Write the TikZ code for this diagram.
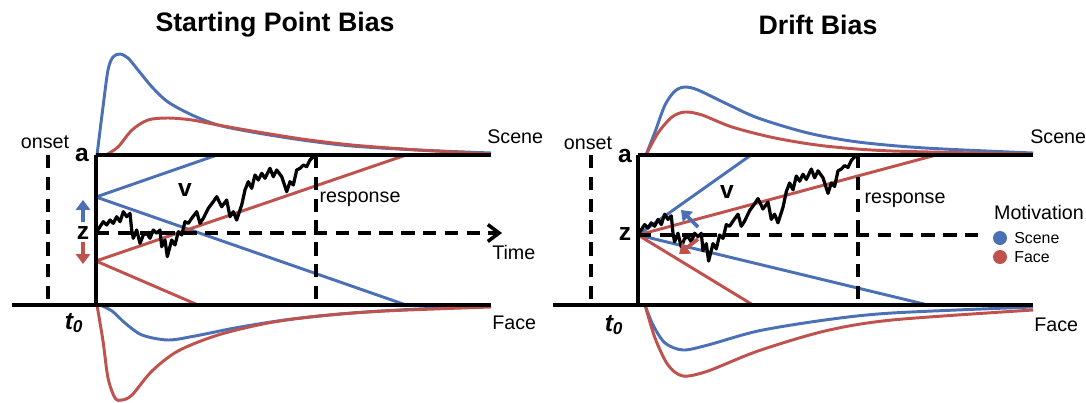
\documentclass[tikz,border=0pt]{standalone}
\usepackage{fontspec}
\setmainfont{Liberation Sans}
\usepackage{tikz}
\usetikzlibrary{arrows.meta}
\definecolor{scn}{RGB}{76,112,182}
\definecolor{fce}{RGB}{192,82,78}

\begin{document}
\begin{tikzpicture}[x=0.025cm,y=-0.025cm,
   bnd/.style={line width=2.5pt},
   dsh/.style={line width=2.5pt,dash pattern=on 9.5pt off 6pt},
   sc/.style={scn,line width=2.1pt},
   fc/.style={fce,line width=2.1pt},
   lbl/.style={font=\fontsize{14}{16}\selectfont,inner sep=0pt},
   par/.style={font=\fontsize{17.5}{20}\selectfont\bfseries,inner sep=0pt},
   ttl/.style={font=\fontsize{19}{22}\selectfont\bfseries,inner sep=0pt},
   leg/.style={font=\fontsize{11.3}{13}\selectfont,inner sep=0pt,anchor=west},
   dot/.style={circle,inner sep=0pt,minimum size=3.5mm},
   bias/.style={line width=2.6pt,-{Triangle[length=7pt,width=10pt]}},
   rwalk/.pic={\draw[line width=2.3pt,line join=round]
      (0,0) -- (6.6,-10) -- (10,-6.7) -- (13.3,-11.7) -- (16.6,-8.4) -- (20,-15)
      -- (23.3,-10) -- (26.6,-20) -- (30,-15) -- (33.3,-18.4) -- (35,-1.7)
      -- (36.6,6.6) -- (40,-1.7) -- (43.3,11.6) -- (46.6,3.3) -- (50,1.6)
      -- (53.3,6.6) -- (56.6,-1.7) -- (60,1.6) -- (63.3,-1.7) -- (65,15)
      -- (68.3,8.3) -- (70.6,25) -- (75,8.3) -- (78.3,13.3) -- (81.6,0)
      -- (85,3.3) -- (88.3,-10) -- (91.6,-8.4) -- (95,-13.4) -- (100,-20)
      -- (103.3,-8.4) -- (106.6,-13.4) -- (111.6,-23.4) -- (116.6,-30) -- (120,-35)
      -- (125,-25) -- (130,-31.7) -- (133.3,-15) -- (136.6,-20) -- (140,-11.7)
      -- (145,-26.7) -- (148.3,-41.7) -- (151.6,-50) -- (155,-43.4) -- (158.3,-56.7)
      -- (161.6,-51.7) -- (165,-58.4) -- (168.3,-53.4) -- (173.3,-63.4) -- (176.6,-55)
      -- (180,-61.7) -- (185,-55) -- (190,-40) -- (193.3,-50) -- (196.6,-46.7)
      -- (200,-61.7) -- (203.3,-63.4) -- (206.6,-66.7) -- (210,-65) -- (213.3,-71.7)
      -- (216.6,-75) -- (218.3,-76.7);}
  ]
  \useasboundingbox (0,0) rectangle (1086,402);

  % starting point bias
  \coordinate (aL) at (96,155);
  \coordinate (oL) at (96,305);
  \coordinate (zL) at (96,233);
  \coordinate (sL) at (96,197);
  \coordinate (fL) at (96,261);

  \draw[sc] plot[smooth] coordinates {(97,155) (103,107) (108,70) (113,57) (120,54)
     (128,58) (138,70) (152,87) (168,102) (192,115) (218,125) (252,132) (302,140)
     (352,146) (418,150) (491,153)};
  \draw[fc] plot[smooth] coordinates {(106,155) (118,147) (132,130) (148,120) (168,118)
     (192,120) (218,125) (252,131) (302,139) (352,145) (418,150) (491,154)};
  \draw[sc] plot[smooth] coordinates {(100,305) (112,311) (125,323) (142,335) (168,340)
     (195,336) (235,328) (285,320) (352,313) (418,309) (491,306)};
  \draw[fc] plot[smooth] coordinates {(97,305) (103,341) (108,378) (115,398) (122,400)
     (132,395) (152,371) (178,351) (218,335) (268,323) (318,316) (385,311) (491,307)};

  \draw[sc] (sL) -- (217,155);
  \draw[sc] (sL) -- (406,305);
  \draw[fc] (fL) -- (406,155);
  \draw[fc] (fL) -- (198,305);

  \draw[bnd] (aL) -- (491,155);
  \draw[bnd] (12,305) -- (491,305);
  \draw[bnd] (aL) -- (oL);
  \draw[dsh] (48,155) -- (48,305);
  \draw[dsh] (316,155) -- (316,305);
  \draw[dsh,-{Straight Barb[length=8pt,width=12pt]}] (zL) -- (502,233);
  \pic at (96.7,231.7) {rwalk};

  \draw[bias,scn] (83,222) -- (83,200);
  \draw[bias,fce] (83,242) -- (83,264);

  \node[ttl] (ttlL) at (275,25) {Starting Point Bias};
  \node[lbl] (onL) at (45,142) {onset};
  \node[par] (aLt) at (82,155) {a};
  \node[par] (zLt) at (83,233) {z};
  \node[par] (vLt) at (185,190) {v};
  \node[par] (t0L) at (74,323) {\itshape t\textsubscript{0}};
  \node[lbl] (rsL) at (360,199) {response};
  \node[lbl,anchor=west] (scL) at (487,137) {Scene};
  \node[lbl,anchor=west] (tmL) at (492,252) {Time};
  \node[lbl,anchor=west] (fcL) at (492,323) {Face};

  % drift bias
  \coordinate (aR) at (638,155);
  \coordinate (oR) at (638,305);
  \coordinate (zR) at (638,235);

  \draw[sc] plot[smooth] coordinates {(646,155) (655,132) (665,105) (675,91) (685,87)
     (698,90) (725,103) (758,118) (808,133) (858,142) (925,148) (1033,153)};
  \draw[fc] plot[smooth] coordinates {(646,155) (658,133) (672,117) (685,112) (702,115)
     (732,127) (775,138) (825,146) (892,151) (1033,154)};
  \draw[sc] plot[smooth] coordinates {(645,305) (653,325) (665,343) (683,350) (708,345)
     (758,331) (825,320) (892,313) (1033,307)};
  \draw[fc] plot[smooth] coordinates {(645,305) (655,338) (668,365) (683,376) (708,371)
     (758,351) (825,331) (892,320) (1033,310)};

  \draw[sc] (zR) -- (751,155);
  \draw[fc] (zR) -- (936,155);
  \draw[sc] (zR) -- (928,305);
  \draw[fc] (zR) -- (753,305);

  \draw[bnd] (aR) -- (1033,155);
  \draw[bnd] (553,305) -- (1033,305);
  \draw[bnd] (aR) -- (oR);
  \draw[dsh] (591,155) -- (591,305);
  \draw[dsh] (858,155) -- (858,305);
  \draw[dsh] (zR) -- (983,235);
  \pic[yscale=1.04] at (638,235) {rwalk};

  \draw[bias,scn] (698,227) -- (681,210);
  \draw[bias,fce] (698,239) -- (679,254);

  \node[ttl] (ttlR) at (818,25) {Drift Bias};
  \node[lbl] (onR) at (588,143) {onset};
  \node[par] (aRt) at (625,156) {a};
  \node[par] (zRt) at (625,234) {z};
  \node[par] (vRt) at (727,192) {v};
  \node[par] (t0R) at (614,325) {\itshape t\textsubscript{0}};
  \node[lbl] (rsR) at (905,200) {response};
  \node[lbl,anchor=west] (scR) at (1030,137) {Scene};
  \node[lbl,anchor=west] (fcR) at (1034,325) {Face};

  \node[lbl] (mot) at (1039,212) {Motivation};
  \node[dot,fill=scn] (dS) at (1000,238) {};
  \node[dot,fill=fce] (dF) at (1000,257) {};
  \node[leg] (lS) at (1014,238) {Scene};
  \node[leg] (lF) at (1014,257) {Face};
\end{tikzpicture}
\end{document}
